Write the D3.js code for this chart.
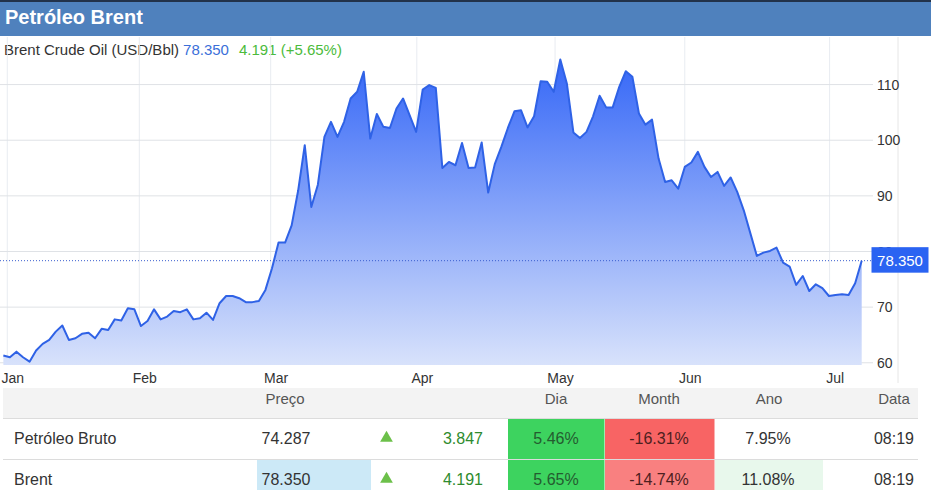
<!DOCTYPE html>
<html>
<head>
<meta charset="utf-8">
<script src="https://cdn.jsdelivr.net/npm/d3@7"></script>
<style>
  body { margin: 0; background: #fff; }
  svg { display: block; font-family: "Liberation Sans", Arial, sans-serif; }
</style>
</head>
<body>
<svg></svg>
<script>
// chart data
const width = 931
const height = 490

const months = ['Jan', 'Feb', 'Mar', 'Apr', 'May', 'Jun', 'Jul']
const monthTicks = [0.6, 20.75, 40.8, 63.1, 84.2, 104.0, 126.1]   // position on the trading-day index
const yTicks = [60, 70, 80, 90, 100, 110]

const brent = [
    61.3, 61.0, 62.0, 61.0, 60.2, 62.2, 63.4, 64.1, 65.6, 66.7,
    64.1, 64.4, 65.2, 65.4, 64.4, 66.1, 65.9, 67.8, 67.6, 69.8,
    69.6, 66.6, 67.5, 69.6, 67.8, 68.3, 69.3, 69.1, 69.6, 67.8,
    68.0, 69.0, 67.7, 70.7, 72.0, 72.0, 71.6, 70.9, 70.9, 71.1,
    73.1, 77.0, 81.6, 81.6, 84.7, 91.0, 99.1, 88.0, 92.0, 100.6,
    103.3, 100.6, 103.3, 107.5, 108.7, 112.3, 100.3, 104.7, 102.4, 102.2,
    105.7, 107.5, 104.5, 101.5, 109.1, 109.9, 109.4, 95.0, 96.1, 95.5,
    99.5, 95.0, 95.1, 99.6, 90.6, 95.7, 98.8, 102.2, 105.2, 105.4,
    102.3, 104.3, 110.6, 110.5, 108.7, 114.5, 110.2, 101.4, 100.4, 101.5,
    104.3, 108.0, 105.9, 105.9, 109.6, 112.4, 111.4, 104.8, 102.8, 103.7,
    96.7, 92.5, 92.8, 91.3, 95.2, 96.0, 97.9, 95.2, 93.4, 94.3,
    91.8, 93.3, 90.7, 87.4, 83.3, 79.2, 79.8, 80.1, 80.7, 78.0,
    77.3, 74.0, 75.6, 72.9, 74.1, 73.4, 72.0, 72.2, 72.3, 72.2,
    74.3, 78.35
]

const lastPrice = 78.350
const lastChange = 4.191
const lastChangePct = 5.65

// table data
const tableHeaders = ['Preço', 'Dia', 'Month', 'Ano', 'Data']
const rowNames = ['Petróleo Bruto', 'Brent']
const rowPrices = ['74.287', '78.350']
const rowChanges = ['3.847', '4.191']
const rowDay = ['5.46%', '5.65%']
const rowMonth = ['-16.31%', '-14.74%']
const rowYear = ['7.95%', '11.08%']
const rowTime = ['08:19', '08:19']

const plotTop = 37
const plotBottom = 365

let svg = d3.select('svg').attr('width', width).attr('height', height)

let xScale = d3.scaleLinear().domain([0, brent.length - 1]).range([3.35, 861.7])
let yScale = d3.scaleLinear().domain([59.6, 118.55]).range([plotBottom, plotTop])

function drawHeader() {
    svg.append('rect').attr('x', 0).attr('y', 0).attr('width', width).attr('height', 36).attr('fill', '#4f81bd')
    svg.append('rect').attr('x', 0).attr('y', 0).attr('width', width).attr('height', 2).attr('fill', '#22324a')
    svg.append('text')
        .attr('x', 5).attr('y', 24)
        .attr('fill', '#fff')
        .attr('font-size', 20)
        .attr('font-weight', 'bold')
        .text('Petróleo Brent')

    let sub = svg.append('text').attr('x', 4).attr('y', 55).attr('font-size', 15)
    sub.append('tspan').attr('fill', '#333').text('Brent Crude Oil (USD/Bbl)')
    sub.append('tspan').attr('dx', 4).attr('fill', '#3b6fd9').text(lastPrice.toFixed(3))
    sub.append('tspan').attr('dx', 10).attr('fill', '#4cbb3c')
        .text(lastChange.toFixed(3) + ' (+' + lastChangePct.toFixed(2) + '%)')
}

function drawGrid() {
    svg.append('g')
        .selectAll('line')
        .data(monthTicks)
        .enter()
        .append('line')
        .attr('x1', d => xScale(d)).attr('x2', d => xScale(d))
        .attr('y1', plotTop).attr('y2', plotBottom)
        .attr('stroke', '#e8ecf1')

    svg.append('line')
        .attr('x1', 898).attr('x2', 898).attr('y1', plotTop).attr('y2', 383)
        .attr('stroke', '#e6e6e6')

    svg.append('g')
        .selectAll('line')
        .data(yTicks)
        .enter()
        .append('line')
        .attr('x1', 0).attr('x2', 873)
        .attr('y1', d => yScale(d)).attr('y2', d => yScale(d))
        .attr('stroke', '#dfe2e6')
}

function drawArea() {
    let grad = svg.append('defs').append('linearGradient')
        .attr('id', 'fill')
        .attr('gradientUnits', 'userSpaceOnUse')
        .attr('x1', 0).attr('x2', 0)
        .attr('y1', yScale(d3.max(brent))).attr('y2', plotBottom)
    grad.append('stop').attr('offset', 0).attr('stop-color', '#3567f7')
    grad.append('stop').attr('offset', 1).attr('stop-color', '#d8e2fb')

    let area = d3.area()
        .x((d, i) => xScale(i))
        .y0(plotBottom)
        .y1(d => yScale(d))

    let line = d3.line()
        .x((d, i) => xScale(i))
        .y(d => yScale(d))

    svg.append('path').datum(brent).attr('d', area).attr('fill', 'url(#fill)')
    svg.append('path').datum(brent).attr('d', line)
        .attr('fill', 'none')
        .attr('stroke', '#2f62e6')
        .attr('stroke-width', 2)
        .attr('stroke-linejoin', 'round')
}

function drawAxes() {
    svg.append('g')
        .selectAll('text')
        .data(yTicks)
        .enter()
        .append('text')
        .attr('x', 877)
        .attr('y', d => yScale(d))
        .attr('dy', '0.36em')
        .attr('font-size', 14)
        .attr('fill', '#333')
        .text(d => d)

    svg.append('g')
        .selectAll('text')
        .data(months)
        .enter()
        .append('text')
        .attr('x', (d, i) => xScale(monthTicks[i]) + 5.5)
        .attr('y', 383)
        .attr('text-anchor', 'middle')
        .attr('font-size', 14)
        .attr('fill', '#333')
        .text(d => d)

    // last price marker
    let yLast = yScale(lastPrice)
    svg.append('line')
        .attr('x1', 0).attr('x2', 872)
        .attr('y1', yLast).attr('y2', yLast)
        .attr('stroke', '#3a5fcf')
        .attr('stroke-dasharray', '1,2')
    svg.append('rect')
        .attr('x', 871.5).attr('y', yLast - 13.5)
        .attr('width', 57).attr('height', 25.5)
        .attr('fill', '#2a63f2')
    svg.append('text')
        .attr('x', 900).attr('y', yLast)
        .attr('dy', '0.36em')
        .attr('text-anchor', 'middle')
        .attr('font-size', 15)
        .attr('fill', '#fff')
        .text(lastPrice.toFixed(3))
}

function drawTable() {
    let t = svg.append('g')
    t.append('rect').attr('x', 3).attr('y', 388).attr('width', 915).attr('height', 30).attr('fill', '#f3f3f3')

    let headerX = [285, 556, 659, 769, 894]
    t.selectAll('.th')
        .data(tableHeaders)
        .enter()
        .append('text')
        .attr('x', (d, i) => headerX[i])
        .attr('y', 404)
        .attr('text-anchor', 'middle')
        .attr('font-size', 15)
        .attr('fill', '#555')
        .text(d => d)

    let rowTop = [419, 460]
    let rowH = [40, 30]
    let baseline = [444, 485]

    let dayBg = ['#3dd35f', '#3dd35f']
    let monthBg = ['#f86464', '#f98080']
    let yearBg = ['#ffffff', '#e8f8ec']
    let priceBg = ['#ffffff', '#cce9f7']

    rowNames.forEach((name, i) => {
        t.append('rect').attr('x', 257).attr('y', rowTop[i]).attr('width', 114).attr('height', rowH[i]).attr('fill', priceBg[i])
        t.append('rect').attr('x', 508).attr('y', rowTop[i]).attr('width', 96.5).attr('height', rowH[i]).attr('fill', dayBg[i])
        t.append('rect').attr('x', 605).attr('y', rowTop[i]).attr('width', 109.5).attr('height', rowH[i]).attr('fill', monthBg[i])
        t.append('rect').attr('x', 715).attr('y', rowTop[i]).attr('width', 108).attr('height', rowH[i]).attr('fill', yearBg[i])

        let y = baseline[i]
        t.append('text').attr('x', 14).attr('y', y).attr('font-size', 16).attr('fill', '#333').text(name)
        t.append('text').attr('x', 286).attr('y', y).attr('text-anchor', 'middle').attr('font-size', 16).attr('fill', '#333').text(rowPrices[i])
        t.append('path')
            .attr('d', d3.symbol().type(d3.symbolTriangle).size(70))
            .attr('transform', 'translate(386.5,' + (y - 6) + ') ')
            .attr('fill', '#6cc04a')
        t.append('text').attr('x', 483).attr('y', y).attr('text-anchor', 'end').attr('font-size', 16).attr('fill', '#2e8b2e').text(rowChanges[i])
        t.append('text').attr('x', 556).attr('y', y).attr('text-anchor', 'middle').attr('font-size', 16).attr('fill', '#245c30').text(rowDay[i])
        t.append('text').attr('x', 659).attr('y', y).attr('text-anchor', 'middle').attr('font-size', 16).attr('fill', '#4d2020').text(rowMonth[i])
        t.append('text').attr('x', 768).attr('y', y).attr('text-anchor', 'middle').attr('font-size', 16).attr('fill', '#333').text(rowYear[i])
        t.append('text').attr('x', 914).attr('y', y).attr('text-anchor', 'end').attr('font-size', 16).attr('fill', '#333').text(rowTime[i])
    })

    t.selectAll('.sep')
        .data([418.5, 459.5])
        .enter()
        .append('line')
        .attr('x1', 3).attr('x2', 918)
        .attr('y1', d => d).attr('y2', d => d)
        .attr('stroke', '#dcdcdc')
}

function main() {
    drawHeader()
    drawGrid()
    drawArea()
    drawAxes()
    drawTable()
}

main()
</script>
</body>
</html>
